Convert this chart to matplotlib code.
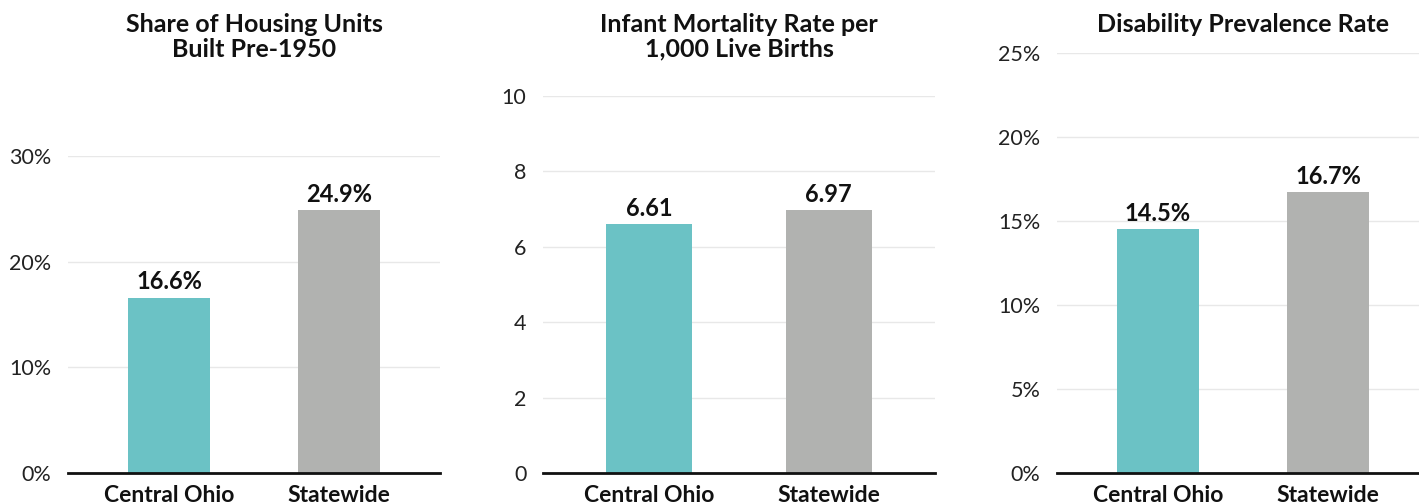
import matplotlib
matplotlib.use("Agg")
import matplotlib.pyplot as plt

# Datos de los tres paneles
categories = ["Central Ohio", "Statewide"]
bar_colors = ["#6BC2C5", "#B1B2B0"]

titles = [
    "Share of Housing Units\nBuilt Pre-1950",
    "Infant Mortality Rate per\n1,000 Live Births",
    "Disability Prevalence Rate",
]
housing_pre1950 = [16.6, 24.9]
infant_mortality = [6.61, 6.97]
disability_rate = [14.5, 16.7]

value_labels = [
    ["16.6%", "24.9%"],
    ["6.61", "6.97"],
    ["14.5%", "16.7%"],
]
y_ticks = [
    [0, 10, 20, 30],
    [0, 2, 4, 6, 8, 10],
    [0, 5, 10, 15, 20, 25],
]
y_tick_labels = [
    ["0%", "10%", "20%", "30%"],
    ["0", "2", "4", "6", "8", "10"],
    ["0%", "5%", "10%", "15%", "20%", "25%"],
]
series = [housing_pre1950, infant_mortality, disability_rate]

plt.rcParams["font.family"] = ["Lato", "DejaVu Sans"]

W, H = 1419, 504
fig = plt.figure(figsize=(W / 100, H / 100), dpi=100)
fig.patch.set_facecolor("white")

# Posiciones de los ejes en pixeles: (izq, arriba, ancho), la base esta en y=473
boxes = [(68, 156, 372), (543, 96, 392), (1057, 53, 372)]
zero_y = 473

for i, (left, top, width) in enumerate(boxes):
    ax = fig.add_axes([left / W, (H - zero_y) / H, width / W, (zero_y - top) / H])
    vals = series[i]
    ax.bar(range(len(categories)), vals, width=0.48, color=bar_colors, zorder=2)
    ax.set_xlim(-0.594, 1.594)
    ax.set_ylim(0, y_ticks[i][-1])
    ax.set_yticks(y_ticks[i])
    ax.set_yticklabels(y_tick_labels[i], fontsize=15.5, color="#222222")
    ax.set_xticks(range(len(categories)))
    ax.set_xticklabels(categories, fontsize=16.5, fontweight="bold", color="#111111")
    ax.tick_params(axis="both", length=0)
    ax.tick_params(axis="y", pad=12)
    ax.tick_params(axis="x", pad=9)
    ax.grid(axis="y", color="#E8E8E8", linewidth=1, zorder=0)
    for s in ["top", "right", "left"]:
        ax.spines[s].set_visible(False)
    ax.spines["bottom"].set_linewidth(2)
    ax.spines["bottom"].set_color("#111111")
    ax.spines["bottom"].set_zorder(3)

    for j, v in enumerate(vals):
        ax.annotate(value_labels[i][j], (j, v), xytext=(0, 3), textcoords="offset points",
                    ha="center", va="bottom", fontsize=17, fontweight="bold",
                    color="#111111", annotation_clip=False)

    fig.text((left + width / 2) / W, 1 - 13 / H, titles[i], ha="center", va="top",
             fontsize=18, fontweight="bold", color="#111111", linespacing=1.08)

fig.savefig("out.png", dpi=100, facecolor="white")
